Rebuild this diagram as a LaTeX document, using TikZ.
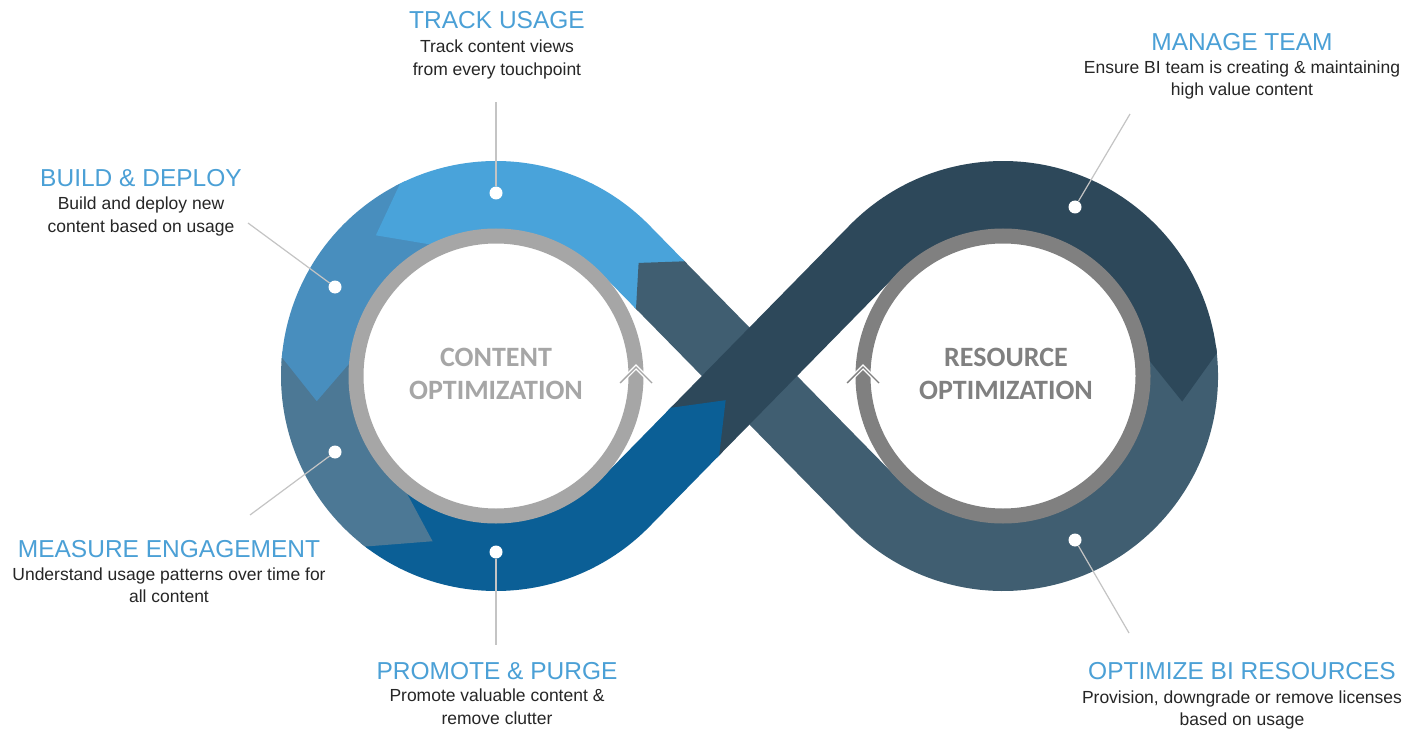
\documentclass[tikz,border=0pt]{standalone}
\usepackage{fontspec}
\setmainfont{Liberation Sans}
\newfontfamily\ringfont{Carlito}
\usetikzlibrary{calc}

\definecolor{bandLight}{HTML}{49A3DA}
\definecolor{bandMid}{HTML}{488EBE}
\definecolor{bandMeasure}{HTML}{4C7895}
\definecolor{bandDeep}{HTML}{0B5F96}
\definecolor{bandNavy}{HTML}{2D485A}
\definecolor{bandSlate}{HTML}{405E71}
\definecolor{ringLight}{HTML}{A6A6A6}
\definecolor{ringDark}{HTML}{808080}
\definecolor{headBlue}{HTML}{4BA0D6}
\definecolor{bodyGray}{HTML}{262626}
\definecolor{leaderGray}{HTML}{C4C4C4}

\begin{document}
\begin{tikzpicture}[x=1pt,y=1pt,
  band/.style={line width=68pt},
  ring/.style={line width=15pt},
  heading/.style={text=headBlue, font=\fontsize{24.5}{28}\selectfont, inner sep=0pt, anchor=base},
  bodyline/.style={text=bodyGray, font=\fontsize{17.5}{22}\selectfont, inner sep=0pt, anchor=base},
  ringtext/.style={font=\ringfont\bfseries\fontsize{28}{33}\selectfont, inner sep=0pt, anchor=base},
  dot/.style={circle, fill=white, minimum size=13pt, inner sep=0pt},
  leader/.style={draw=leaderGray, line width=1.2pt},
  caret/.style={line width=1.4pt, line join=miter}]

\fill[white] (0,0) rectangle (1421,-730);
\useasboundingbox (0,0) rectangle (1421,-730);

% loop centres, crossing point and tangent points of the centre line
\coordinate (C1) at (496,-376);
\coordinate (C2) at (1003,-376);
\coordinate (M) at (749.5,-376);
\coordinate (T1) at ($(C1)+(44.4:181pt)$);
\coordinate (T1b) at ($(C1)+(-44.4:181pt)$);
\coordinate (T2) at ($(C2)+(135.6:181pt)$);
\coordinate (T2b) at ($(C2)+(-135.6:181pt)$);
% segment joints on the two diagonals
\coordinate (S) at ($(T1)+(-45.6:50pt)$);
\coordinate (D) at ($(T1b)+(45.6:99.4pt)$);

% band bodies; each runs a little past its joint so the next one closes the seam
\draw[band, bandSlate] ($(C2)+(8:181pt)$) arc[start angle=8, end angle=-135.6, radius=181pt] -- ($(S)+(134.4:3pt)$);
\draw[band, bandLight] (S) -- (T1) arc[start angle=44.4, end angle=118, radius=181pt];
\draw[band, bandMid] ($(C1)+(116.5:181pt)$) arc[start angle=116.5, end angle=176.5, radius=181pt];
\draw[band, bandMeasure] ($(C1)+(175:181pt)$) arc[start angle=175, end angle=234, radius=181pt];
\draw[band, bandDeep] ($(C1)+(232.5:181pt)$) arc[start angle=232.5, end angle=315.6, radius=181pt] -- ($(D)+(45.6:3pt)$);
\draw[band, bandNavy] (D) -- (T2) arc[start angle=135.6, end angle=6.1, radius=181pt];

% arrow heads, each laid over the start of the next segment
% (they start slightly behind the joint so that no seam shows)
\fill[bandSlate] ($(S)+(44.4:34pt)+(-45.6:3pt)$) -- ($(S)+(224.4:34pt)+(-45.6:3pt)$)
  -- ($(S)+(224.4:34pt)$) -- ($(T1)+(-45.6:19pt)$) -- ($(S)+(44.4:34pt)$) -- cycle;
\fill[bandLight] ($(C1)+(115:147pt)$) -- ($(C1)+(115:215pt)$) -- ($(C1)+(116.5:215pt)$)
  -- ($(C1)+(130.5:185pt)$) -- ($(C1)+(116.5:147pt)$) -- cycle;
\fill[bandMid] ($(C1)+(173.5:147pt)$) -- ($(C1)+(173.5:215pt)$) -- ($(C1)+(175:215pt)$)
  -- ($(C1)+(188:181pt)$) -- ($(C1)+(175:147pt)$) -- cycle;
\fill[bandMeasure] ($(C1)+(231:147pt)$) -- ($(C1)+(231:215pt)$) -- ($(C1)+(232.5:215pt)$)
  -- ($(C1)+(249:177pt)$) -- ($(C1)+(232.5:147pt)$) -- cycle;
\fill[bandDeep] ($(D)+(135.6:34pt)+(225.6:3pt)$) -- ($(D)+(-44.4:34pt)+(225.6:3pt)$)
  -- ($(D)+(-44.4:34pt)$) -- ($(D)+(45.6:44pt)$) -- ($(D)+(135.6:34pt)$) -- cycle;
\fill[bandNavy] ($(C2)+(7.5:147pt)$) -- ($(C2)+(7.5:215pt)$) -- ($(C2)+(6.1:215pt)$)
  -- ($(C2)+(-8.1:181pt)$) -- ($(C2)+(6.1:147pt)$) -- cycle;

% inner rings
\draw[ring, ringLight] (C1) circle[radius=140pt];
\draw[ring, ringDark] (C2) circle[radius=140pt];

% direction carets on the rings
\coordinate (K1) at ($(C1)+(0:140pt)$);
\coordinate (K2) at ($(C2)+(180:140pt)$);
\draw[caret, white, line width=4pt] ($(K1)+(-16,-7)$) -- ($(K1)+(0,9)$) -- ($(K1)+(16,-7)$);
\draw[caret, ringLight] ($(K1)+(-16,-7)$) -- ($(K1)+(0,9)$) -- ($(K1)+(16,-7)$);
\draw[caret, white, line width=4pt] ($(K2)+(-16,-7)$) -- ($(K2)+(0,9)$) -- ($(K2)+(16,-7)$);
\draw[caret, ringDark] ($(K2)+(-16,-7)$) -- ($(K2)+(0,9)$) -- ($(K2)+(16,-7)$);

% ring titles
\node[ringtext, text=ringLight] (ct1) at (496,-366) {CONTENT};
\node[ringtext, text=ringLight] (ct2) at (496,-399) {OPTIMIZATION};
\node[ringtext, text=ringDark] (rt1) at (1006,-366) {RESOURCE};
\node[ringtext, text=ringDark] (rt2) at (1006,-399) {OPTIMIZATION};

% marker dots
\node[dot] (dTrack) at (496,-193) {};
\node[dot] (dBuild) at (335,-287) {};
\node[dot] (dMeasure) at (335,-452) {};
\node[dot] (dPromote) at (496,-552) {};
\node[dot] (dManage) at (1075,-207) {};
\node[dot] (dOptim) at (1075,-540) {};

% leader lines
\coordinate (eTrack) at (496,-102);
\coordinate (eBuild) at (248,-223);
\coordinate (eMeasure) at (250,-515);
\coordinate (ePromote) at (496,-645);
\coordinate (eManage) at (1130,-114);
\coordinate (eOptim) at (1129,-633);
\draw[leader] (dTrack) -- (eTrack);
\draw[leader] (dBuild) -- (eBuild);
\draw[leader] (dMeasure) -- (eMeasure);
\draw[leader] (dPromote) -- (ePromote);
\draw[leader] (dManage) -- (eManage);
\draw[leader] (dOptim) -- (eOptim);

% captions
\node[heading] (hTrack) at (497,-29) {TRACK USAGE};
\node[bodyline] (bTrack1) at (497,-53) {Track content views};
\node[bodyline] (bTrack2) at (497,-76) {from every touchpoint};

\node[heading] (hBuild) at (141,-187) {BUILD \& DEPLOY};
\node[bodyline] (bBuild1) at (141,-210) {Build and deploy new};
\node[bodyline] (bBuild2) at (141,-233) {content based on usage};

\node[heading] (hMeasure) at (169,-557) {MEASURE ENGAGEMENT};
\node[bodyline] (bMeasure1) at (169,-580) {Understand usage patterns over time for};
\node[bodyline] (bMeasure2) at (169,-602) {all content};

\node[heading] (hPromote) at (497,-679) {PROMOTE \& PURGE};
\node[bodyline] (bPromote1) at (497,-701) {Promote valuable content \&};
\node[bodyline] (bPromote2) at (497,-724) {remove clutter};

\node[heading] (hManage) at (1242,-51) {MANAGE TEAM};
\node[bodyline] (bManage1) at (1242,-74) {Ensure BI team is creating \& maintaining};
\node[bodyline] (bManage2) at (1242,-96) {high value content};

\node[heading] (hOptim) at (1242,-679) {OPTIMIZE BI RESOURCES};
\node[bodyline] (bOptim1) at (1242,-703) {Provision, downgrade or remove licenses};
\node[bodyline] (bOptim2) at (1242,-725) {based on usage};
\end{tikzpicture}
\end{document}
